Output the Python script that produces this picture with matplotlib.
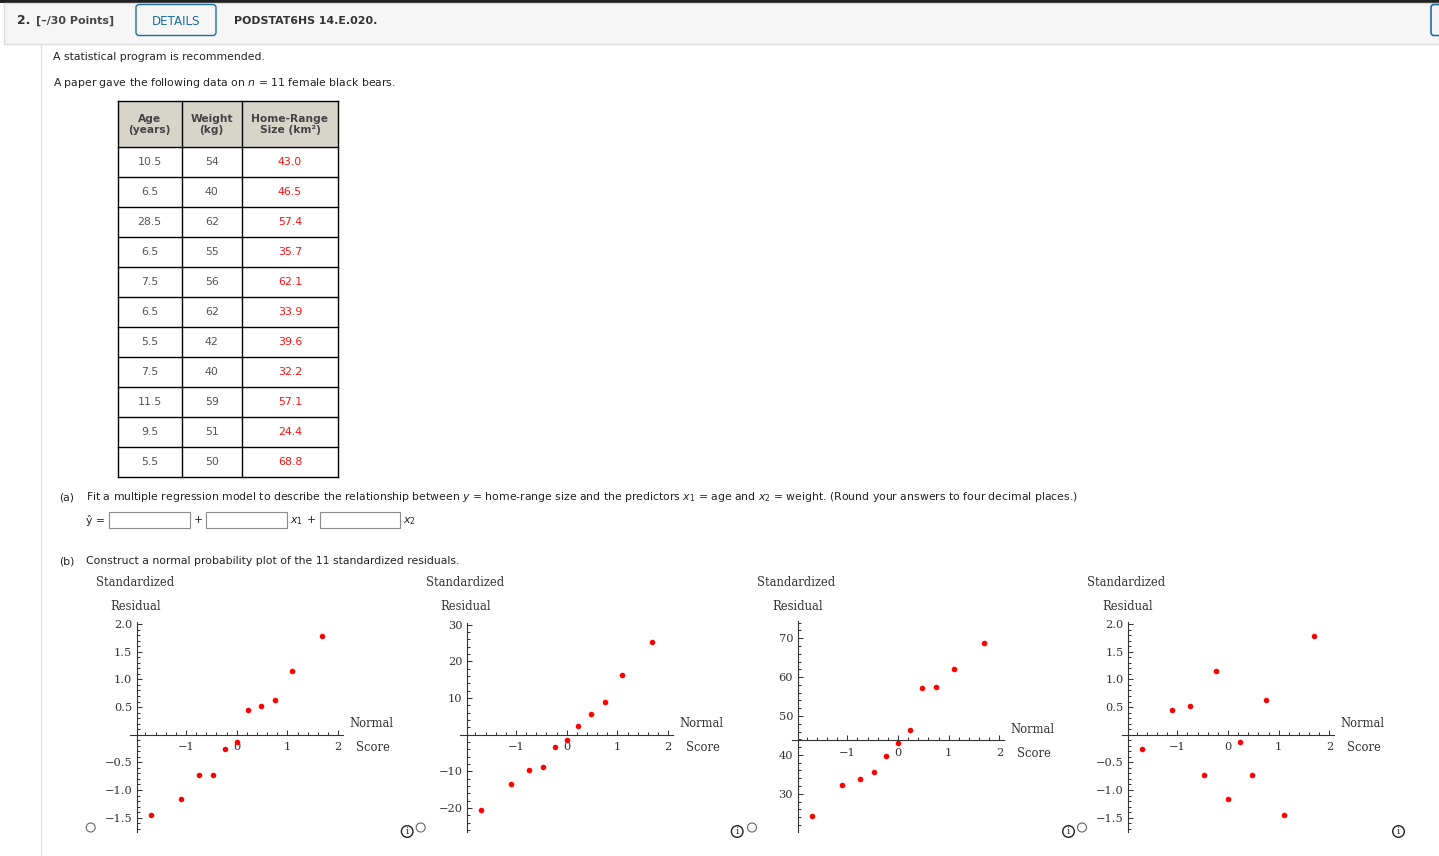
import matplotlib
matplotlib.use("Agg")
import matplotlib.pyplot as plt
from matplotlib.patches import Rectangle, FancyBboxPatch, Circle
from matplotlib.ticker import FixedLocator, NullFormatter
import numpy as np

# ---------------- data ----------------
age = [10.5, 6.5, 28.5, 6.5, 7.5, 6.5, 5.5, 7.5, 11.5, 9.5, 5.5]
weight = [54, 40, 62, 55, 56, 62, 42, 40, 59, 51, 50]
home_range = [43.0, 46.5, 57.4, 35.7, 62.1, 33.9, 39.6, 32.2, 57.1, 24.4, 68.8]
table_headers = ["Age\n(years)", "Weight\n(kg)", "Home-Range\nSize (km²)"]

normal_scores = [-1.69, -1.10, -0.75, -0.47, -0.23, 0.0, 0.23, 0.47, 0.75, 1.10, 1.69]
std_resid_sorted = [-1.46, -1.17, -0.73, -0.72, -0.25, -0.13, 0.44, 0.51, 0.62, 1.15, 1.78]
resid_sorted = [-20.6, -13.4, -9.5, -8.8, -3.4, -1.4, 2.4, 5.7, 8.9, 16.2, 25.3]
range_sorted = [24.4, 32.2, 33.9, 35.7, 39.6, 43.0, 46.5, 57.1, 57.4, 62.1, 68.8]
std_resid_unsorted = [-0.25, 0.44, 0.51, -0.72, 1.15, -1.17, -0.13, -0.73, 0.62, -1.46, 1.78]

xtick_vals = [-1, 0, 1, 2]
xtick_labels = ["\u22121", "0", "1", "2"]
ytick_std = [-1.5, -1.0, -0.5, 0.5, 1.0, 1.5, 2.0]
ytick_std_labels = ["\u22121.5", "\u22121.0", "\u22120.5", "0.5", "1.0", "1.5", "2.0"]
ytick_res = [-20, -10, 10, 20, 30]
ytick_res_labels = ["\u221220", "\u221210", "10", "20", "30"]
ytick_rng = [30, 40, 50, 60, 70]
ytick_rng_labels = ["30", "40", "50", "60", "70"]

# ---------------- figure ----------------
plt.rcParams['font.family'] = ['DejaVu Sans']
plt.rcParams['mathtext.fontset'] = 'dejavusans'
W, H = 1439, 856
fig = plt.figure(figsize=(W / 100, H / 100), dpi=100)
bg = fig.add_axes([0, 0, 1, 1])
bg.set_xlim(0, W)
bg.set_ylim(H, 0)
bg.axis('off')

TXT = '#222222'
BLUE = '#1d6ea6'

# header
bg.add_patch(Rectangle((0, 0), W, 3, fc='#222222', ec='none'))
bg.add_patch(Rectangle((3.5, 3), W, 41, fc='#f6f6f6', ec='#dcdcdc', lw=1))
bg.text(17, 20, "2.", fontsize=8.8, fontweight='bold', color='#333333', ha='left', va='center')
bg.text(36, 21, "[\u2013/30 Points]", fontsize=7.9, fontweight='bold', color='#444444', ha='left', va='center')
bg.add_patch(FancyBboxPatch((136, 4.5), 80, 31, boxstyle="round,pad=0,rounding_size=3",
                            fc='none', ec=BLUE, lw=1))
bg.text(176, 21, "DETAILS", fontsize=8.6, color=BLUE, ha='center', va='center')
bg.text(234, 21, "PODSTAT6HS 14.E.020.", fontsize=7.9, fontweight='bold', color='#333333',
        ha='left', va='center')
bg.add_patch(FancyBboxPatch((1431, 4.5), 40, 31, boxstyle="round,pad=0,rounding_size=3",
                            fc='none', ec=BLUE, lw=1.2))
bg.plot([40.5, 40.5], [44, H], color='#dddddd', lw=0.8)

# intro text
FS = 7.8
bg.text(53, 57, "A statistical program is recommended.", fontsize=FS, color=TXT, ha='left', va='center')
bg.text(53, 83, "A paper gave the following data on $n$ = 11 female black bears.", fontsize=FS,
        color=TXT, ha='left', va='center')

# table
col_edges = [118, 181.5, 242, 338]
head_top, head_bot, row_h = 101, 147, 30
n_rows = len(age)
tab_bot = head_bot + row_h * n_rows
bg.add_patch(Rectangle((col_edges[0], head_top), col_edges[-1] - col_edges[0], head_bot - head_top,
                       fc='#d7d4ca', ec='none'))
for xe in col_edges:
    bg.plot([xe, xe], [head_top, tab_bot], color='black', lw=1.0, solid_capstyle='projecting')
for k in range(n_rows + 1):
    yy = head_bot + row_h * k
    bg.plot([col_edges[0], col_edges[-1]], [yy, yy], color='black', lw=1.0, solid_capstyle='projecting')
bg.plot([col_edges[0], col_edges[-1]], [head_top, head_top], color='black', lw=1.0, solid_capstyle='projecting')
for j, htxt in enumerate(table_headers):
    cx = (col_edges[j] + col_edges[j + 1]) / 2
    bg.text(cx, (head_top + head_bot) / 2 + 0.5, htxt, fontsize=7.7, fontweight='bold', color='#444444',
            ha='center', va='center', linespacing=1.15)
cols = [age, weight, home_range]
colors = ['#555555', '#555555', '#ff1111']
fmts = ["{:.1f}", "{:d}", "{:.1f}"]
for i in range(n_rows):
    cy = head_bot + row_h * i + row_h / 2
    for j in range(3):
        cx = (col_edges[j] + col_edges[j + 1]) / 2
        bg.text(cx, cy, fmts[j].format(cols[j][i]), fontsize=7.9, color=colors[j], ha='center', va='center')

# part (a)
bg.text(59, 497, "(a)", fontsize=FS, color=TXT, ha='left', va='center')
bg.text(86, 497, "Fit a multiple regression model to describe the relationship between $y$ = home-range size "
        "and the predictors $x_1$ = age and $x_2$ = weight. (Round your answers to four decimal places.)",
        fontsize=FS, color=TXT, ha='left', va='center')
bg.text(86, 520, "\u0177 =", fontsize=FS, color=TXT, ha='left', va='center')
for (bx0, bx1) in [(109, 190), (206, 287), (320, 400)]:
    bg.add_patch(Rectangle((bx0, 511.5), bx1 - bx0, 16.5, fc='white', ec='#8a8a8a', lw=0.8))
bg.text(198, 520, "+", fontsize=FS, color=TXT, ha='center', va='center')
bg.text(290, 521, "$x_1$", fontsize=FS, color=TXT, ha='left', va='center')
bg.text(311, 520, "+", fontsize=FS, color=TXT, ha='center', va='center')
bg.text(403, 521, "$x_2$", fontsize=FS, color=TXT, ha='left', va='center')

# part (b)
bg.text(59, 561, "(b)", fontsize=FS, color=TXT, ha='left', va='center')
bg.text(86, 561, "Construct a normal probability plot of the 11 standardized residuals.", fontsize=FS,
        color=TXT, ha='left', va='center')

# ---------------- panels ----------------
SERIF = 'DejaVu Serif'
AXC = '#333333'
SX = 50.67
XLIM = (-2.1, 2.1)
xminor = [round(-1.8 + 0.2 * k, 1) for k in range(20)]


def panel(x0, yv, ypx, sy, ylim, xcross, ycross, xs, ys, yt, ytl, yminor):
    left = x0 + XLIM[0] * SX
    right = x0 + XLIM[1] * SX
    top = ypx - (ylim[1] - yv) * sy
    bottom = ypx - (ylim[0] - yv) * sy
    ax = fig.add_axes([left / W, 1 - bottom / H, (right - left) / W, (bottom - top) / H])
    ax.set_facecolor('none')
    ax.set_xlim(XLIM)
    ax.set_ylim(ylim)
    ax.spines['top'].set_visible(False)
    ax.spines['right'].set_visible(False)
    ax.spines['left'].set_position(('data', xcross))
    ax.spines['bottom'].set_position(('data', ycross))
    for s in ('left', 'bottom'):
        ax.spines[s].set_color(AXC)
        ax.spines[s].set_linewidth(0.8)
    ax.xaxis.set_major_locator(FixedLocator(xtick_vals))
    ax.set_xticklabels(xtick_labels)
    ax.xaxis.set_minor_locator(FixedLocator(xminor))
    ax.yaxis.set_major_locator(FixedLocator(yt))
    ax.set_yticklabels(ytl)
    ax.yaxis.set_minor_locator(FixedLocator(yminor))
    ax.yaxis.set_minor_formatter(NullFormatter())
    ax.xaxis.set_minor_formatter(NullFormatter())
    ax.tick_params(which='both', direction='in', color=AXC, width=0.75)
    ax.tick_params(which='major', length=3.8)
    ax.tick_params(which='minor', length=2.0)
    ax.tick_params(axis='x', which='major', pad=5.5, labelsize=8.2, labelcolor='#333333')
    ax.tick_params(axis='y', which='major', pad=3.3, labelsize=8.2, labelcolor='#333333')
    for lab in ax.get_xticklabels() + ax.get_yticklabels():
        lab.set_fontfamily(SERIF)
    ax.plot(xs, ys, 'o', color='#ff0000', ms=4.0, mec='none', clip_on=False)
    # labels
    axis_px = ypx - (ycross - yv) * sy
    bg.text(x0 - 140.7, 583, "Standardized", family=SERIF, fontsize=8.3, color='#333333', ha='left', va='center')
    bg.text(x0 - 126, 606, "Residual", family=SERIF, fontsize=8.3, color='#333333', ha='left', va='center')
    bg.text(x0 + 112.7, axis_px - 11, "Normal", family=SERIF, fontsize=8.3, color='#333333', ha='left', va='center')
    bg.text(x0 + 119.3, axis_px + 13, "Score", family=SERIF, fontsize=8.3, color='#333333', ha='left', va='center')
    return ax


ymin_std = [round(-1.7 + 0.1 * k, 1) for k in range(38)]
ymin_res = list(range(-26, 31, 2))
ymin_rng = list(range(22, 75, 2))

origins = [236.7, 566.7, 898.0, 1228.0]
panel(origins[0], 0, 734.7, 55.33, (-1.75, 2.04), -1.97, 0, normal_scores, std_resid_sorted,
      ytick_std, ytick_std_labels, ymin_std)
panel(origins[1], 0, 734.7, 3.667, (-26.5, 30.5), -1.97, 0, normal_scores, resid_sorted,
      ytick_res, ytick_res_labels, ymin_res)
panel(origins[2], 50, 716.0, 3.889, (20.25, 74.5), -1.98, 43.8, normal_scores, range_sorted,
      ytick_rng, ytick_rng_labels, ymin_rng)
panel(origins[3], 0, 734.7, 55.33, (-1.75, 2.04), -1.97, 0, normal_scores, std_resid_unsorted,
      ytick_std, ytick_std_labels, ymin_std)

# radio buttons and info icons
for x0 in origins:
    bg.add_patch(Circle((x0 - 146, 827.5), 4.5, fc='white', ec='#666666', lw=0.8))
for x0 in origins:
    ix = x0 + 170.5
    bg.add_patch(Circle((ix, 831.5), 5.8, fc='white', ec='#222222', lw=1.0))
    bg.text(ix, 832, "i", family=SERIF, fontsize=7.2, color='#222222', ha='center', va='center')

fig.savefig("out.png", dpi=100)
